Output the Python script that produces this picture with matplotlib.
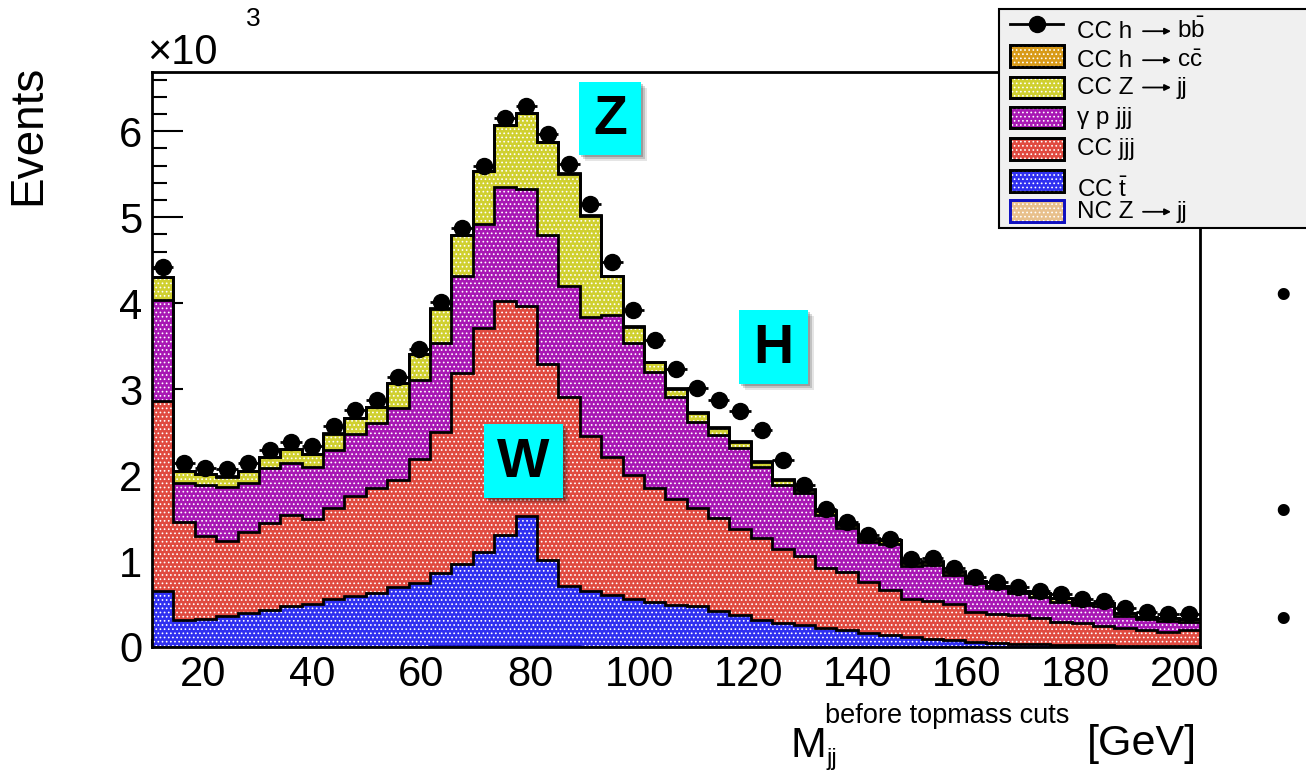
import numpy as np
import matplotlib
matplotlib.use('Agg')
import matplotlib.pyplot as plt
from matplotlib.patches import Rectangle
from matplotlib.lines import Line2D
from matplotlib.ticker import MultipleLocator, FuncFormatter
from matplotlib.transforms import ScaledTranslation

plt.rcParams['font.family'] = ['Liberation Sans', 'DejaVu Sans']
plt.rcParams['mathtext.fontset'] = 'custom'
plt.rcParams['mathtext.rm'] = 'Liberation Sans'
plt.rcParams['mathtext.it'] = 'Liberation Sans:italic'
plt.rcParams['mathtext.bf'] = 'Liberation Sans:bold'
plt.rcParams['hatch.linewidth'] = 0.7

# ---------------- data (events per bin) ----------------
x_min, x_max, n_bins = 10, 202, 49

nc_z = [4, 3, 3, 3, 3, 3, 4, 4, 4, 4, 5, 5, 5, 6, 6, 7, 8, 8, 7, 6, 5, 5, 4, 4, 4,
        3, 3, 3, 3, 3, 2, 2, 2, 2, 2, 2, 2, 2, 1, 1, 1, 1, 1, 1, 1, 1, 1, 1, 1]
cc_t = [643, 314, 320, 353, 390, 430, 470, 500, 555, 585, 620, 690, 740, 850, 960, 1100,
        1300, 1520, 1000, 700, 650, 600, 560, 520, 490, 470, 420, 372, 314, 280, 256, 217,
        198, 160, 140, 112, 90, 74, 54, 43, 35, 30, 25, 20, 18, 15, 12, 10, 8]
cc_jjj = [2210, 1143, 963, 872, 940, 1010, 1060, 985, 1055, 1165, 1225, 1250, 1440, 1650,
          2220, 2610, 2715, 2440, 2290, 2200, 1800, 1600, 1440, 1330, 1230, 1140, 1080,
          1003, 946, 855, 804, 698, 678, 590, 523, 446, 445, 422, 349, 341, 337, 304, 270,
          255, 226, 202, 186, 168, 190]
gp_jjj = [1182, 446, 601, 639, 580, 640, 606, 605, 680, 720, 755, 835, 920, 1030, 1130,
          1200, 1330, 1360, 1500, 1290, 1380, 1660, 1530, 1340, 1180, 1010, 965, 935, 830,
          745, 730, 620, 504, 475, 532, 382, 418, 341, 337, 296, 252, 251, 232, 213, 233,
          143, 124, 128, 97]
cc_zjj = [265, 137, 126, 116, 130, 130, 164, 150, 190, 190, 190, 295, 300, 400, 480, 620,
          715, 880, 1075, 1310, 1185, 450, 190, 120, 100, 100, 85, 70, 60, 60, 40, 50, 40,
          35, 45, 40, 37, 39, 27, 30, 31, 39, 39, 27, 31, 30, 30, 28, 27]
cc_hcc = [2, 1, 1, 1, 1, 1, 1, 1, 2, 2, 2, 2, 2, 3, 3, 3, 4, 4, 4, 5, 5, 6, 6, 7, 8,
          8, 9, 9, 9, 8, 8, 7, 6, 5, 4, 3, 3, 2, 2, 2, 1, 1, 1, 1, 1, 1, 1, 1, 1]
cc_hbb_points = [4420, 2136, 2080, 2070, 2136, 2290, 2390, 2340, 2570, 2760, 2870, 3140,
                 3470, 4015, 4870, 5600, 6150, 6300, 5970, 5620, 5160, 4480, 3920, 3570,
                 3230, 3010, 2870, 2740, 2530, 2170, 1890, 1610, 1460, 1300, 1260, 1020,
                 1030, 915, 820, 760, 700, 650, 620, 555, 540, 450, 410, 380, 380]

# legend names: (text before arrow, text after arrow or None)
layers = [  # bottom to top: (legend name, values, fill colour, edge colour)
    (("NC Z", "jj"), nc_z, "#e8c08c", "#1010c0"),
    (("CC $\\bar{\\rm t}$", None), cc_t, "#3030f0", "black"),
    (("CC jjj", None), cc_jjj, "#e04a40", "black"),
    (("\u03b3 p jjj", None), gp_jjj, "#a818b4", "black"),
    (("CC Z", "jj"), cc_zjj, "#d0d030", "black"),
    (("CC h", "c$\\bar{\\rm c}$"), cc_hcc, "#d89a18", "black"),
]
points_name = ("CC h", "b$\\bar{\\rm b}$")

W, H = 1306, 771
fig = plt.figure(figsize=(W / 100, H / 100), dpi=100)
fig.patch.set_facecolor('white')

ax_l, ax_r, ax_t, ax_b = 152.0, 1200.0, 72.0, 647.0
ax = fig.add_axes([ax_l / W, 1 - ax_b / H, (ax_r - ax_l) / W, (ax_b - ax_t) / H])

edges = np.linspace(x_min, x_max, n_bins + 1)
centers = 0.5 * (edges[:-1] + edges[1:])
width = edges[1] - edges[0]

base = np.zeros(n_bins)
tops = []
for name, vals, col, ecol in layers:
    v = np.asarray(vals, dtype=float)
    top = base + v
    ax.stairs(top, edges, baseline=base, fill=True, facecolor=col, edgecolor='none',
              linewidth=0, zorder=1)
    ax.stairs(top, edges, baseline=base, fill=True, facecolor='none', edgecolor='white',
              hatch='....', linewidth=0, zorder=1.1)
    tops.append((top, ecol))
    base = top
for top, ecol in tops:
    ax.stairs(top, edges, baseline=None, fill=False, color=ecol, linewidth=2.0, zorder=2)

ax.errorbar(centers, cc_hbb_points, xerr=width / 2, fmt='o', color='black',
            markersize=11.5, elinewidth=2, capsize=0, zorder=3)

ax.set_xlim(x_min, x_max)
ax.set_ylim(0, 6690)
ax.set_axisbelow(True)
ax.xaxis.set_major_locator(MultipleLocator(20))
ax.xaxis.set_minor_locator(MultipleLocator(5))
ax.yaxis.set_major_locator(MultipleLocator(1000))
ax.yaxis.set_minor_locator(MultipleLocator(200))
ax.yaxis.set_major_formatter(FuncFormatter(lambda v, p: f"{v/1000:.0f}"))
ax.tick_params(axis='both', which='both', direction='in', width=1.5, labelsize=30,
               top=False, right=False)
ax.tick_params(axis='y', which='major', length=22, pad=7)
ax.tick_params(axis='y', which='minor', length=11)
ax.tick_params(axis='x', which='major', length=12, pad=6)
ax.tick_params(axis='x', which='minor', length=6)
for lab in ax.get_xticklabels():
    lab.set_transform(lab.get_transform() + ScaledTranslation(-0.04, 0, fig.dpi_scale_trans))
for s in ax.spines.values():
    s.set_linewidth(2)
    s.set_zorder(4)

# --------------- overlay in pixel coordinates ---------------
ov = fig.add_axes([0, 0, 1, 1], zorder=5)
ov.set_xlim(0, W)
ov.set_ylim(H, 0)
ov.axis('off')
ov.patch.set_alpha(0)

# axis titles
ov.text(28, 135, "Events", rotation=90, fontsize=33, ha='center', va='center')
ov.text(147, 64, "\u00d710", fontsize=30, ha='left', va='baseline')
ov.text(246, 26, "3", fontsize=19, ha='left', va='baseline')
ov.text(790, 757, "M", fontsize=31, ha='left', va='baseline')
ov.text(826, 765, "jj", fontsize=17, ha='left', va='baseline')
ov.text(825, 723, "before topmass cuts", fontsize=19.5, ha='left', va='baseline')
ov.text(1197, 755, "[GeV]", fontsize=31, ha='right', va='baseline')

# cyan boson labels with shadow
for lab, (x0, y0, x1, y1) in [("Z", (579, 82, 641, 155)),
                              ("H", (739, 310, 808, 384)),
                              ("W", (484, 424, 563, 498))]:
    for d, a in [(6, 0.10), (4, 0.15), (2, 0.2)]:
        ov.add_patch(Rectangle((x0 + d, y0 + d), x1 - x0, y1 - y0, facecolor='black',
                               edgecolor='none', alpha=a))
    ov.add_patch(Rectangle((x0, y0), x1 - x0, y1 - y0, facecolor='#00ffff',
                           edgecolor='none'))
    ov.text((x0 + x1) / 2, (y0 + y1) / 2 + 2, lab, fontsize=40, fontweight='bold',
            ha='center', va='center')

# legend
LFS = 17.5


def legend_label(parts, baseline):
    first, second = parts
    ov.text(1077, baseline, first, fontsize=LFS, ha='left', va='baseline', zorder=8)
    if second is not None:
        ya = baseline - 6.5
        ov.annotate('', xy=(1171, ya), xytext=(1143, ya),
                    arrowprops=dict(arrowstyle='-|>', lw=1.3, color='black',
                                    mutation_scale=9, shrinkA=0, shrinkB=0), zorder=8)
        ov.text(1177, baseline, second, fontsize=LFS, ha='left', va='baseline', zorder=8)


ov.add_patch(Rectangle((999, 9), 330, 219, facecolor='#f0f0f0', edgecolor='black',
                       linewidth=1.5, zorder=6))
ov.add_line(Line2D([1010, 1063], [24, 24], color='black', lw=2, zorder=7))
ov.plot([1037], [24], 'o', color='black', markersize=11.5, zorder=7)
legend_label(points_name, 37.7)
leg_rows = [  # (layer index, box top, box bottom, text baseline)
    (5, 45, 67, 66.7),
    (4, 77, 98, 94),
    (3, 107, 128, 124.3),
    (2, 138, 160, 155),
    (1, 170, 192, 196.7),
    (0, 200, 222, 218.3),
]
for idx, yt, yb, tb in leg_rows:
    name, _, col, ecol = layers[idx]
    ov.add_patch(Rectangle((1010, yt), 54, yb - yt, facecolor=col, edgecolor=ecol,
                           linewidth=2, zorder=7))
    ov.add_patch(Rectangle((1010, yt), 54, yb - yt, facecolor='none', edgecolor='white',
                           hatch='....', linewidth=0, zorder=7.1))
    ov.add_patch(Rectangle((1010, yt), 54, yb - yt, facecolor='none', edgecolor=ecol,
                           linewidth=2, zorder=7.2))
    legend_label(name, tb)

# bullets from the slide
for yb in (298, 513, 622):
    ov.text(1283, yb, "\u2022", fontsize=32, ha='center', va='center')

fig.savefig("out.png", dpi=100)
